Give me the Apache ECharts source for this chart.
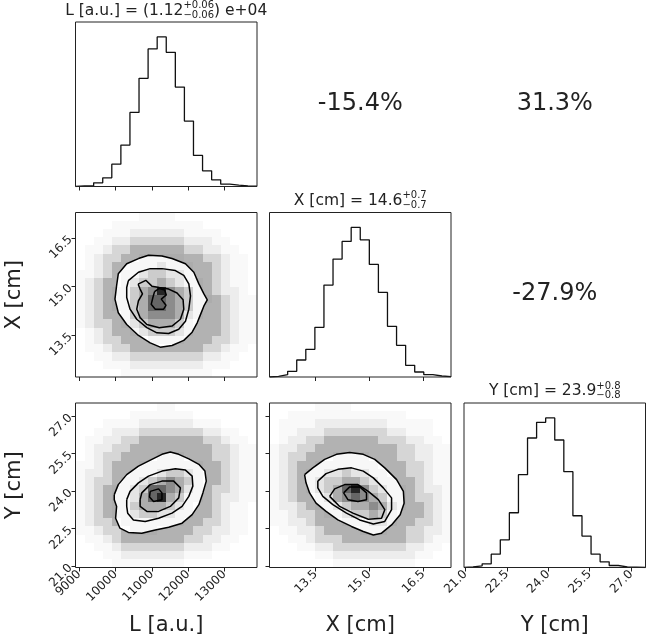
<!DOCTYPE html>
<html>
<head>
<meta charset="utf-8">
<title>Corner plot</title>
<script src="https://cdn.jsdelivr.net/npm/echarts@6/dist/echarts.min.js"></script>
<style>
  html, body { margin: 0; padding: 0; background: #fff; }
  #corner { width: 646px; height: 637px; }
</style>
</head>
<body>
<div id="corner"></div>
<script>

// axis ranges and ticks
var lRange = [8895, 13900];
var xRange = [12.21, 17.28];
var yRange = [20.95, 27.52];
var lTicks = [9000, 10000, 11000, 12000, 13000];
var xTicks = [13.5, 15.0, 16.5];
var yTicks = [21.0, 22.5, 24.0, 25.5, 27.0];

// 1D histograms (20 bins over the axis range)
var lHist = [2, 2, 11, 26, 67, 124, 222, 324, 412, 448, 402, 298, 196, 93, 47, 20, 7, 4, 2, 1];
var xHist = [2, 7, 17, 51, 83, 149, 276, 354, 407, 449, 412, 338, 254, 152, 95, 35, 15, 7, 3, 1];
var yHist = [2, 5, 11, 40, 83, 164, 278, 388, 435, 448, 382, 287, 155, 94, 40, 17, 6, 2, 1, 0];

// titles: main, upper err, lower err, tail
var lTitle = ['L [a.u.] = (1.12', '+0.06', '\u22120.06', ') e+04'];
var xTitle = ['X [cm] = 14.6', '+0.7', '\u22120.7', ''];
var yTitle = ['Y [cm] = 23.9', '+0.8', '\u22120.8', ''];
var axisNames = ['L [a.u.]', 'X [cm]', 'Y [cm]'];

var corrLX = '-15.4%';
var corrLY = '31.3%';
var corrXY = '-27.9%';

// 2D histograms, 20x20, top row first. 1-4 = scattered points, 5-b = shaded density
var densLX = [
  '00000001111000000000',
  '00001111111111000000',
  '00011122222211110000',
  '00112233333322211000',
  '01123344444433221100',
  '01233445555544332110',
  '01234455565554432110',
  '11234556776654432110',
  '12344567787655432110',
  '123455789b9875432210',
  '12345578aa9875543211',
  '12345578aa9875443211',
  '12344578999865443211',
  '12334567888754443211',
  '01234456777654443211',
  '01233444555544433211',
  '01123344444444332110',
  '00112233333333221100',
  '00011122222222111000',
  '00000111111111100000'
];
var densLY = [
  '00000000011000000000',
  '00000011111110000000',
  '00011112222221110000',
  '00112223333333221100',
  '01122334444444332110',
  '01223344444444433211',
  '01233444455544433211',
  '11234445555555443211',
  '12234455567765443211',
  '12334556789875443211',
  '12345567aa9865433211',
  '12345568ab8755432211',
  '12345578887654432110',
  '12345567766554432110',
  '12334555555544332110',
  '11233455544443322110',
  '01123444444433221100',
  '00112333333322211000',
  '00011222222211100000',
  '00001111111100000000'
];
var densXY = [
  '00000111100000000000',
  '00111111111111100000',
  '01111222222221111100',
  '01122233333332211100',
  '01223344444433322110',
  '12233444444444332211',
  '12334445555444332211',
  '12344555555544433211',
  '12345566766554433211',
  '12345677887655443211',
  '12345678ab9765543221',
  '123445689a9875543321',
  '12234556788986544321',
  '11233455677875444321',
  '11223444555665443321',
  '01122344445554433221',
  '00112333444444433211',
  '00011223333333322110',
  '00000112222222221100',
  '00000001111111110000'
];

// contour lines: outer, middle, inner, core
var contLX = [
  [[10631,15.86],[10908,15.96],[11279,15.94],[11557,15.86],[11927,15.70],[12158,15.44],[12297,15.08],[12436,14.77],[12529,14.59],[12436,14.40],[12344,14.14],[12251,13.88],[12112,13.59],[11881,13.34],[11557,13.18],[11233,13.13],[10955,13.26],[10631,13.49],[10307,13.83],[10075,14.19],[9983,14.61],[10029,15.03],[10075,15.39],[10307,15.70]],
  [[10353,15.18],[10631,15.44],[10955,15.55],[11279,15.55],[11649,15.49],[11881,15.34],[12020,15.08],[12066,14.71],[12020,14.30],[11927,13.93],[11742,13.68],[11464,13.55],[11140,13.57],[10862,13.73],[10584,13.99],[10399,14.30],[10307,14.66],[10307,14.97]],
  [[10621,15.07],[10834,15.19],[11001,15.01],[11205,14.97],[11464,14.92],[11695,14.80],[11862,14.59],[11881,14.30],[11788,13.99],[11557,13.78],[11205,13.73],[10862,13.83],[10677,14.04],[10584,14.30],[10631,14.56],[10742,14.77],[10677,14.92]],
  [[11075,14.84],[11205,14.94],[11353,14.89],[11399,14.74],[11260,14.61],[11390,14.42],[11325,14.30],[11094,14.30],[10983,14.45],[11029,14.66]]
];
var contLY = [
  [[9964,23.86],[10075,24.26],[10307,24.66],[10631,25.00],[11001,25.27],[11279,25.47],[11510,25.56],[11742,25.47],[12020,25.29],[12297,25.07],[12464,24.80],[12501,24.40],[12408,23.93],[12297,23.46],[12112,23.06],[11834,22.72],[11464,22.56],[11094,22.45],[10723,22.32],[10353,22.35],[10121,22.52],[10001,22.92],[10029,23.39],[9964,23.66]],
  [[10307,23.66],[10399,23.99],[10631,24.33],[10908,24.60],[11279,24.80],[11649,24.89],[11927,24.84],[12112,24.60],[12131,24.20],[12020,23.79],[11834,23.39],[11557,23.12],[11186,22.92],[10816,22.79],[10492,22.85],[10334,23.12],[10307,23.39]],
  [[10677,23.66],[10723,23.93],[10955,24.26],[11279,24.40],[11603,24.40],[11788,24.13],[11742,23.73],[11510,23.39],[11186,23.19],[10862,23.19],[10677,23.39]],
  [[10955,23.99],[11186,24.09],[11279,23.93],[11279,23.66],[11047,23.59],[10936,23.77]]
];
var contXY = [
  [[13.19,24.66],[13.42,24.93],[13.75,25.27],[14.08,25.47],[14.45,25.54],[14.83,25.47],[15.15,25.27],[15.43,24.93],[15.76,24.46],[15.95,23.99],[15.97,23.52],[15.86,23.06],[15.62,22.65],[15.34,22.32],[15.11,22.25],[14.83,22.39],[14.50,22.59],[14.12,22.85],[13.79,23.19],[13.51,23.52],[13.33,23.93],[13.23,24.33]],
  [[13.56,24.40],[13.79,24.70],[14.12,24.87],[14.50,24.93],[14.83,24.80],[15.11,24.53],[15.39,24.13],[15.62,23.73],[15.62,23.26],[15.43,22.79],[15.11,22.69],[14.73,22.85],[14.36,23.12],[13.98,23.46],[13.70,23.79],[13.56,24.13]],
  [[13.89,23.79],[14.03,24.09],[14.31,24.26],[14.68,24.26],[14.97,23.99],[15.25,23.66],[15.43,23.26],[15.34,22.92],[14.97,22.88],[14.54,23.12],[14.17,23.39],[14.03,23.59]],
  [[14.28,23.93],[14.45,24.17],[14.73,24.17],[14.92,23.93],[14.92,23.66],[14.68,23.59],[14.40,23.66]]
];

var FONT = '"DejaVu Sans", sans-serif';
var INK = '#222';

var dom = document.getElementById('corner');
var cornerChart = echarts.init(dom, null, {renderer: 'canvas'});

// layout of the panels
var colLeft = [75.5, 269.5, 464];
var rowTop = [22, 212.5, 403];
var panelW = 181.5, panelH = 164.5;
var panels = [[0, 0], [1, 0], [1, 1], [2, 0], [2, 1], [2, 2]];

var haloAlpha = [0, 0.025, 0.07, 0.16, 0.3, 0.3, 0.3, 0.3, 0.3, 0.3, 0.3, 0.3];
var shadeAlpha = [0, 0, 0, 0, 0, 0.03, 0.1, 0.2, 0.32, 0.45, 0.6, 0.85];

function stepData(counts, range) {
    var w = (range[1] - range[0]) / counts.length;
    var pts = [[range[0], 0]];
    counts.forEach(function(c, i) { pts.push([range[0] + i * w, c]); });
    pts.push([range[1], counts[counts.length - 1]]);
    pts.push([range[1], 0]);
    return pts;
}

function cellData(rows, xr, yr) {
    var nx = rows[0].length, ny = rows.length;
    var dx = (xr[1] - xr[0]) / nx, dy = (yr[1] - yr[0]) / ny;
    var out = [];
    rows.forEach(function(row, r) {
        for (var i = 0; i < nx; i++) {
            var lv = parseInt(row.charAt(i), 16);
            if (lv > 0) {
                out.push([xr[0] + i * dx, xr[0] + (i + 1) * dx, yr[1] - (r + 1) * dy, yr[1] - r * dy, lv]);
            }
        }
    });
    return out;
}

function cellRenderer(alphas) {
    return function(params, api) {
        var a = alphas[api.value(4)];
        if (!a) return null;
        var p0 = api.coord([api.value(0), api.value(3)]);
        var p1 = api.coord([api.value(1), api.value(2)]);
        var x0 = Math.round(p0[0]), y0 = Math.round(p0[1]);
        return {
            type: 'rect',
            shape: {x: x0, y: y0, width: Math.round(p1[0]) - x0, height: Math.round(p1[1]) - y0},
            style: {fill: 'rgba(0,0,0,' + a + ')'}
        };
    };
}

function valueAxis(gi, range, ticks, showLabel, decimals) {
    return {
        type: 'value', gridIndex: gi, min: range[0], max: range[1],
        splitLine: {show: false},
        axisLine: {show: false},
        axisTick: {show: true, customValues: ticks, length: 4, lineStyle: {color: INK, width: 1}},
        axisLabel: {
            show: showLabel, customValues: ticks, rotate: 45, fontSize: 12,
            fontFamily: FONT, color: INK, margin: 5,
            formatter: function(v) { return decimals ? Number(v).toFixed(decimals) : String(v); }
        }
    };
}

function countAxis(gi, counts) {
    return {type: 'value', gridIndex: gi, min: 0, max: Math.max.apply(null, counts) * 1.1, show: false};
}

var grids = panels.map(function(p) {
    return {
        left: colLeft[p[1]], top: rowTop[p[0]], width: panelW, height: panelH,
        show: true, borderColor: INK, borderWidth: 1, backgroundColor: 'transparent', z: 10
    };
});

var xAxes = [
    valueAxis(0, lRange, lTicks, false, 0),
    valueAxis(1, lRange, lTicks, false, 0),
    valueAxis(2, xRange, xTicks, false, 1),
    valueAxis(3, lRange, lTicks, true, 0),
    valueAxis(4, xRange, xTicks, true, 1),
    valueAxis(5, yRange, yTicks, true, 1)
];
var yAxes = [
    countAxis(0, lHist),
    valueAxis(1, xRange, xTicks, true, 1),
    countAxis(2, xHist),
    valueAxis(3, yRange, yTicks, true, 1),
    valueAxis(4, yRange, yTicks, false, 1),
    countAxis(5, yHist)
];

var series = [];

[[0, lHist, lRange], [2, xHist, xRange], [5, yHist, yRange]].forEach(function(h) {
    series.push({
        type: 'line', xAxisIndex: h[0], yAxisIndex: h[0], step: 'end', symbol: 'none',
        silent: true, data: stepData(h[1], h[2]),
        lineStyle: {color: '#111', width: 1.3}
    });
});

[[1, densLX, contLX, lRange, xRange], [3, densLY, contLY, lRange, yRange], [4, densXY, contXY, xRange, yRange]].forEach(function(p) {
    var gi = p[0], cells = cellData(p[1], p[3], p[4]), conts = p[2];
    // scattered samples outside the contours
    series.push({
        type: 'custom', xAxisIndex: gi, yAxisIndex: gi, silent: true, z: 1,
        data: cells, renderItem: cellRenderer(haloAlpha)
    });
    // white fill inside the outermost contour
    series.push({
        type: 'custom', xAxisIndex: gi, yAxisIndex: gi, silent: true, z: 2,
        data: [[0]],
        renderItem: function(params, api) {
            return {
                type: 'polygon',
                shape: {points: conts[0].map(function(pt) { return api.coord(pt); })},
                style: {fill: '#fff'}
            };
        }
    });
    // density shading
    series.push({
        type: 'custom', xAxisIndex: gi, yAxisIndex: gi, silent: true, z: 3,
        data: cells, renderItem: cellRenderer(shadeAlpha)
    });
    conts.forEach(function(c) {
        series.push({
            type: 'line', xAxisIndex: gi, yAxisIndex: gi, symbol: 'none', silent: true, z: 4,
            data: c.concat([c[0]]),
            lineStyle: {color: '#000', width: 1.5}
        });
    });
});

// titles with asymmetric errors
var measureCtx = document.createElement('canvas').getContext('2d');
function textWidth(str, size) {
    measureCtx.font = size + 'px ' + FONT;
    return measureCtx.measureText(str).width;
}
function txt(str, x, y, size, align, rot) {
    return {
        type: 'text', x: x, y: y, rotation: rot || 0, silent: true,
        style: {
            text: str, font: size + 'px ' + FONT, fill: INK,
            align: align, verticalAlign: 'middle',
            textAlign: align, textVerticalAlign: 'middle'
        }
    };
}
function errTitle(t, cx, base) {
    var big = 15.5, small = 10;
    var w0 = textWidth(t[0], big);
    var w1 = Math.max(textWidth(t[1], small), textWidth(t[2], small));
    var w2 = t[3] ? textWidth(t[3], big) : 0;
    var x = cx - (w0 + w1 + w2) / 2;
    var out = [
        txt(t[0], x, base - 5.4, big, 'left'),
        txt(t[1], x + w0, base - 10.4, small, 'left'),
        txt(t[2], x + w0, base - 0.6, small, 'left')
    ];
    if (t[3]) out.push(txt(t[3], x + w0 + w1, base - 5.4, big, 'left'));
    return out;
}

var graphics = []
    .concat(errTitle(lTitle, colLeft[0] + panelW / 2, 16))
    .concat(errTitle(xTitle, colLeft[1] + panelW / 2, 206))
    .concat(errTitle(yTitle, colLeft[2] + panelW / 2, 396.5));
graphics.push(txt(corrLX, colLeft[1] + panelW / 2, 103.5, 24, 'center'));
graphics.push(txt(corrLY, colLeft[2] + panelW / 2, 103.5, 24, 'center'));
graphics.push(txt(corrXY, colLeft[2] + panelW / 2, 293.5, 24, 'center'));
axisNames.forEach(function(n, i) {
    graphics.push(txt(n, colLeft[i] + panelW / 2, 626, 21, 'center'));
});
graphics.push(txt(axisNames[1], 15, rowTop[1] + panelH / 2, 21, 'center', Math.PI / 2));
graphics.push(txt(axisNames[2], 15, rowTop[2] + panelH / 2, 21, 'center', Math.PI / 2));

var option = {
    animation: false,
    backgroundColor: '#fff',
    grid: grids,
    xAxis: xAxes,
    yAxis: yAxes,
    series: series,
    graphic: {elements: graphics}
};

if (option && typeof option === 'object') {
    cornerChart.setOption(option, true);
}

window.addEventListener('resize', function() {
    cornerChart.resize();
});
</script>
</body>
</html>
